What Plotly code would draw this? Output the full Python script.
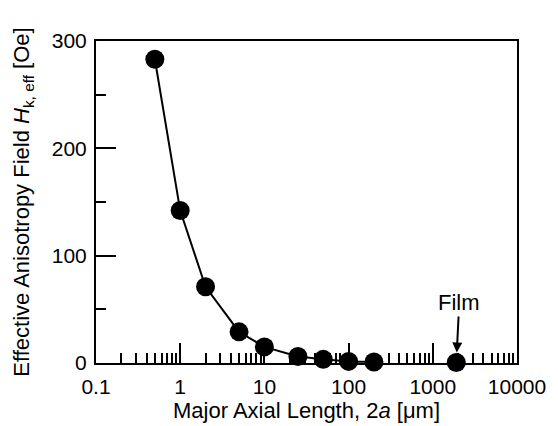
import math
import plotly.graph_objects as go

# Data
length_um = [0.5, 1, 2, 5, 10, 25, 50, 100, 200]
hk_eff = [283, 142, 71, 29, 15, 6, 3.4, 1.5, 0.9]
film_length = [1900]
film_hk = [0.5]
x_tickvals = [0.1, 1, 10, 100, 1000, 10000]
x_ticktext = ["0.1", "1", "10", "100", "1000", "10000"]
y_tickvals = [0, 100, 200, 300]

minor_x = [m * 10 ** e for e in range(-1, 4) for m in range(2, 10)]

FONT = "Liberation Sans, Arial, sans-serif"

fig = go.Figure()
fig.add_trace(go.Scatter(
    x=length_um, y=hk_eff, mode="lines+markers",
    line=dict(color="black", width=2),
    marker=dict(color="black", size=19),
    cliponaxis=False, showlegend=False,
))
fig.add_trace(go.Scatter(
    x=film_length, y=film_hk, mode="markers",
    marker=dict(color="black", size=19),
    cliponaxis=False, showlegend=False,
))

fig.add_annotation(
    x=math.log10(film_length[0]), y=film_hk[0], xref="x", yref="y",
    text="Film", showarrow=True, arrowhead=2, arrowsize=1, arrowwidth=2,
    arrowcolor="black", ax=3, ay=-60, standoff=10,
    font=dict(family=FONT, size=22, color="black"),
)

fig.update_layout(
    width=550, height=418,
    margin=dict(l=88, r=35, t=33, b=56),
    paper_bgcolor="white", plot_bgcolor="white",
    font=dict(family=FONT, size=22, color="black"),
    xaxis=dict(
        type="log", range=[-1, 4],
        tickvals=x_tickvals, ticktext=x_ticktext,
        ticks="inside", ticklen=20, tickwidth=2, tickcolor="black",
        minor=dict(tickvals=minor_x, ticks="inside", ticklen=10, tickwidth=1.5, tickcolor="black"),
        showline=True, linewidth=2, linecolor="black", mirror=True,
        showgrid=False, zeroline=False,
        tickfont=dict(size=21), ticklabelstandoff=4,
        title=dict(text="Major Axial Length, 2<i>a</i> [μm]", font=dict(size=22), standoff=0),
    ),
    yaxis=dict(
        range=[0, 300], tickvals=y_tickvals,
        ticks="inside", ticklen=20, tickwidth=2, tickcolor="black",
        minor=dict(dtick=50, ticks="inside", ticklen=10, tickwidth=2, tickcolor="black"),
        showline=True, linewidth=2, linecolor="black", mirror=True,
        showgrid=False, zeroline=False,
        tickfont=dict(size=21), ticklabelstandoff=3,
        title=dict(text="Effective Anisotropy Field <i>H</i><sub>k, eff</sub> [Oe]",
                   font=dict(size=22), standoff=16),
    ),
)

fig.write_html("out.html")
